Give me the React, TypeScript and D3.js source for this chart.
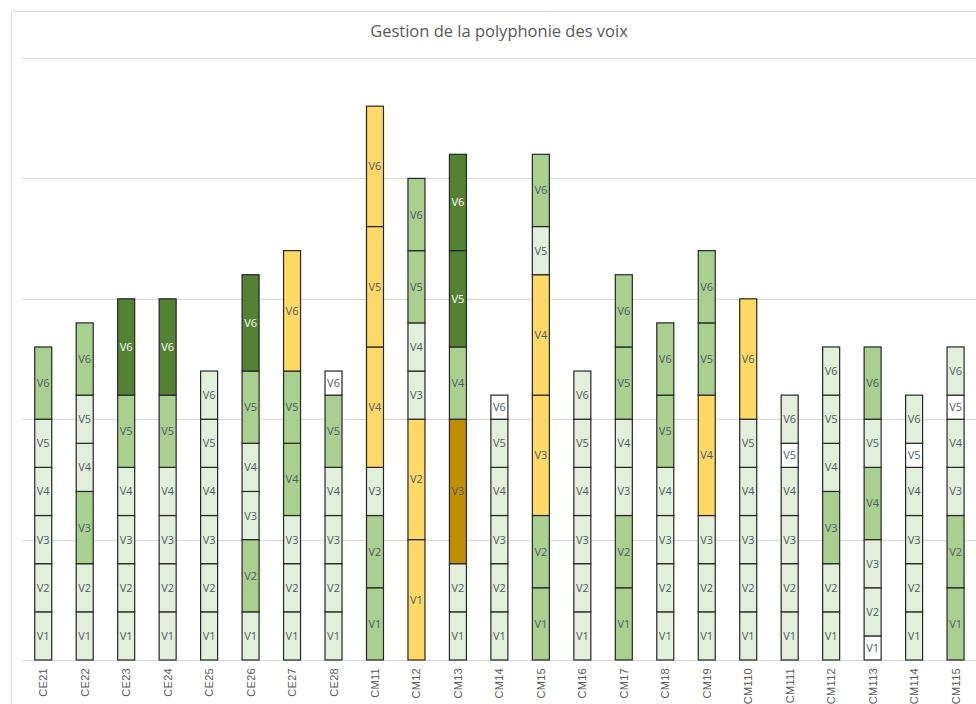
import * as d3 from "d3";

const categories = [
  "CE21", "CE22", "CE23", "CE24", "CE25", "CE26", "CE27", "CE28",
  "CM11", "CM12", "CM13", "CM14", "CM15", "CM16", "CM17", "CM18",
  "CM19", "CM110", "CM111", "CM112", "CM113", "CM114", "CM115",
];
const voices = ["V1", "V2", "V3", "V4", "V5", "V6"];

const v1 = [2, 2, 2, 2, 2, 2, 2, 2, 3, 5, 2, 2, 3, 2, 3, 2, 2, 2, 2, 2, 1, 2, 3];
const v2 = [2, 2, 2, 2, 2, 3, 2, 2, 3, 5, 2, 2, 3, 2, 3, 2, 2, 2, 2, 2, 2, 2, 3];
const v3 = [2, 3, 2, 2, 2, 2, 2, 2, 2, 2, 6, 2, 5, 2, 2, 2, 2, 2, 2, 3, 2, 2, 2];
const v4 = [2, 2, 2, 2, 2, 2, 3, 2, 5, 2, 3, 2, 5, 2, 2, 2, 5, 2, 2, 2, 3, 2, 2];
const v5 = [2, 2, 3, 3, 2, 3, 3, 3, 5, 3, 4, 2, 2, 2, 3, 3, 3, 2, 1, 2, 2, 1, 1];
const v6 = [3, 3, 4, 4, 2, 4, 5, 1, 5, 3, 4, 1, 3, 2, 3, 3, 3, 5, 2, 2, 3, 2, 2];

const yTicks = [0, 5, 10, 15, 20, 25];

// colour depends on the value of the segment
const levelValues = [1, 2, 3, 4, 5, 6];
const levelColors = ["#ffffff", "#e2efda", "#a9d08e", "#548235", "#ffd966", "#bf8f00"];

const W = 976;
const H = 704;

export default function App() {
  const rows = categories.map((c, i) => ({
    cat: c,
    V1: v1[i], V2: v2[i], V3: v3[i], V4: v4[i], V5: v5[i], V6: v6[i],
  }));

  const x = d3.scaleBand().domain(categories).range([22.5, 976.3]).paddingInner(0.59).paddingOuter(0.295);
  const y = d3.scaleLinear().domain([0, 25]).range([660, 58]);
  const color = d3.scaleOrdinal<number, string>().domain(levelValues).range(levelColors);

  const series = d3.stack<any>().keys(voices)(rows);

  return (
    <svg width={W} height={H} style={{ position: "absolute", left: 0, top: 0, background: "#fff" }}>
      <rect x={11.5} y={11.5} width={1200} height={1200} fill="#fff" stroke="#d9d9d9" />
      <text x={499} y={37} textAnchor="middle" fontFamily="Open Sans" fontSize={16.5} fill="#595959">
        Gestion de la polyphonie des voix
      </text>
      {yTicks.map((t) => (
        <line key={t} x1={22} x2={W} y1={Math.round(y(t)) + 0.5} y2={Math.round(y(t)) + 0.5} stroke="#d9d9d9" />
      ))}
      {series.map((s) =>
        s.map((d, i) => {
          const val = d[1] - d[0];
          const bx = x(categories[i])!;
          const top = y(d[1]);
          const h = y(d[0]) - y(d[1]);
          const fill = color(val);
          return (
            <g key={s.key + i}>
              <rect x={bx} y={top} width={x.bandwidth()} height={h} fill={fill} stroke="#262626" strokeWidth={1.2} />
              <text
                x={bx + x.bandwidth() / 2}
                y={top + h / 2 + 4}
                textAnchor="middle"
                fontFamily="Open Sans"
                fontSize={11}
                fill={val === 4 ? "#ffffff" : "#505a66"}
              >
                {s.key}
              </text>
            </g>
          );
        })
      )}
      {categories.map((c) => {
        const cx = x(c)! + x.bandwidth() / 2;
        return (
          <text
            key={c}
            transform={`translate(${cx + 4},668) rotate(-90)`}
            textAnchor="end"
            fontFamily="Liberation Sans"
            fontSize={11}
            letterSpacing={0.3}
            fill="#595959"
          >
            {c}
          </text>
        );
      })}
    </svg>
  );
}
